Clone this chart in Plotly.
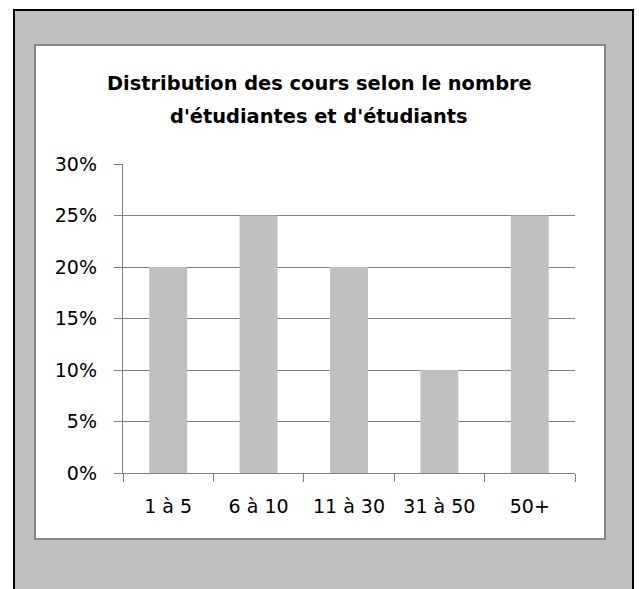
import plotly.graph_objects as go

categories = ["1 à 5", "6 à 10", "11 à 30", "31 à 50", "50+"]
shares = [0.20, 0.25, 0.20, 0.10, 0.25]
title_lines = ["Distribution des cours selon le nombre", "d'étudiantes et d'étudiants"]

FONT = "DejaVu Sans"
L, W, T, H = 123, 452, 164, 309
WIDTH, HEIGHT = 639, 589

def px(x):
    return (x - L) / W

def py(y):
    return (T + H - y) / H

fig = go.Figure(go.Bar(x=categories, y=shares, marker=dict(color="#c0c0c0", line=dict(width=0))))

shapes = [
    dict(type="rect", xref="paper", yref="paper", x0=px(14), x1=px(633), y0=py(10), y1=py(620),
         fillcolor="#c0c0c0", line=dict(color="black", width=2), layer="below"),
    dict(type="rect", xref="paper", yref="paper", x0=px(35), x1=px(605), y0=py(45), y1=py(539),
         fillcolor="white", line=dict(color="#888888", width=2), layer="below"),
]

annotations = [
    dict(text="<b>%s</b>" % title_lines[0], xref="paper", yref="paper", x=px(319), y=py(84),
         xanchor="center", yanchor="middle", showarrow=False, font=dict(family=FONT, size=19.4, color="black")),
    dict(text="<b>%s</b>" % title_lines[1], xref="paper", yref="paper", x=px(319), y=py(117),
         xanchor="center", yanchor="middle", showarrow=False, font=dict(family=FONT, size=19.4, color="black")),
]

fig.update_layout(
    width=WIDTH, height=HEIGHT,
    margin=dict(l=L, r=WIDTH - L - W, t=T, b=HEIGHT - T - H, pad=0),
    paper_bgcolor="white", plot_bgcolor="rgba(0,0,0,0)",
    shapes=shapes, annotations=annotations,
    bargap=0.58, showlegend=False,
    font=dict(family=FONT, size=19, color="black"),
)
fig.update_yaxes(range=[0, 0.3], dtick=0.05, tickformat=".0%", showgrid=True, gridcolor="#808080", gridwidth=1.4,
                 showline=True, linecolor="#808080", linewidth=1.4, ticks="outside", ticklen=8, tickcolor="#808080",
                 tickwidth=1.4, zeroline=False, ticklabelstandoff=13, fixedrange=True)
fig.update_xaxes(showline=True, linecolor="#808080", linewidth=1.4, ticks="outside", tickson="boundaries",
                 ticklen=8, tickcolor="#808080", tickwidth=1.4, showgrid=False, ticklabelstandoff=16, fixedrange=True)

fig.write_html("out.html", config={"displayModeBar": False},
               post_script="document.body.style.margin='0px';document.body.style.overflow='hidden';")
